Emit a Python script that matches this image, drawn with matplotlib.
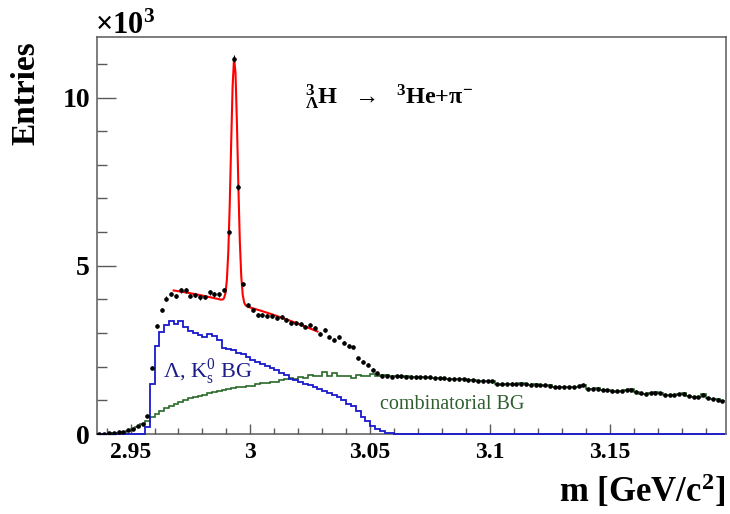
import numpy as np
import matplotlib
matplotlib.use("Agg")
import matplotlib.pyplot as plt
from matplotlib.ticker import MultipleLocator, FixedLocator, FixedFormatter

plt.rcParams['font.family'] = ['Liberation Serif', 'DejaVu Serif']
plt.rcParams['mathtext.fontset'] = 'custom'
plt.rcParams['mathtext.rm'] = 'Liberation Serif:bold'
plt.rcParams['mathtext.it'] = 'Liberation Serif:bold'
plt.rcParams['mathtext.bf'] = 'Liberation Serif:bold'

# ---------------- data ----------------
bin_start = 2.936
bin_width = 0.002
n_bins = 131

data_counts = [10, 10, 20, 30, 50, 70, 110, 160, 230, 310,
               545, 1974, 3214, 3690, 4027, 4157, 4107, 4266, 4266, 4107,
               4127, 4058, 4077, 4206, 4147, 4147, 4286, 5992, 11152, 7341,
               4464, 3829, 3690, 3542, 3542, 3522, 3512, 3442, 3492, 3383,
               3294, 3294, 3264, 3194, 3244, 3145, 2966, 3085, 2897, 2798,
               2877, 2718, 2619, 2579, 2252, 2153, 2054, 1905, 1806, 1726,
               1726, 1706, 1720, 1710, 1700, 1700, 1690, 1690, 1680, 1680,
               1660, 1650, 1650, 1630, 1640, 1620, 1630, 1610, 1600, 1590,
               1590, 1580, 1570, 1490, 1480, 1490, 1500, 1490, 1500, 1480,
               1470, 1470, 1460, 1450, 1440, 1400, 1400, 1390, 1390, 1400,
               1420, 1450, 1340, 1350, 1350, 1320, 1300, 1290, 1270, 1270,
               1300, 1320, 1260, 1210, 1190, 1220, 1230, 1220, 1170, 1150,
               1170, 1190, 1200, 1130, 1100, 1110, 1170, 1070, 1040, 1020,
               980]

lambda_k0_bg = [0, 0, 0, 0, 0, 0, 0, 0, 0, 0,
                220, 1480, 2620, 3020, 3250, 3370, 3260, 3370, 3180, 3050,
                3000, 2950, 2880, 2960, 2920, 2780, 2560, 2540, 2500, 2420,
                2370, 2280, 2200, 2150, 2080, 2020, 1960, 1900, 1800, 1740,
                1640, 1600, 1560, 1500, 1450, 1390, 1340, 1280, 1220, 1170,
                1100, 1000, 900, 820, 680, 500, 380, 230, 150, 90,
                40, 15] + [0] * 69

combinatorial_bg = [5, 5, 10, 20, 40, 60, 100, 150, 220, 300,
                    400, 500, 600, 680, 760, 830, 890, 940, 1010, 1060,
                    1110, 1130, 1170, 1210, 1250, 1280, 1310, 1330, 1370, 1390,
                    1400, 1430, 1430, 1490, 1510, 1530, 1550, 1560, 1610, 1630,
                    1660, 1640, 1690, 1660, 1760, 1730, 1710, 1850, 1720, 1820,
                    1730, 1710, 1710, 1660, 1760, 1730, 1730, 1780, 1730, 1750,
                    1740, 1720, 1730, 1700, 1710, 1690, 1700, 1680, 1690, 1670,
                    1660, 1650, 1640, 1630, 1640, 1620, 1630, 1610, 1600, 1590,
                    1580, 1590, 1570, 1480, 1470, 1490, 1500, 1490, 1510, 1480,
                    1470, 1480, 1460, 1440, 1450, 1400, 1390, 1400, 1390, 1400,
                    1410, 1460, 1340, 1350, 1360, 1320, 1300, 1290, 1260, 1270,
                    1300, 1330, 1260, 1200, 1190, 1220, 1240, 1230, 1160, 1150,
                    1170, 1200, 1210, 1130, 1090, 1110, 1180, 1060, 1040, 1030,
                    970]

# fit: gaussian + pol2 background (t = (m - bg_ref) / bg_scale)
fit_range = (2.968, 3.028)
gauss_mu, gauss_sigma, gauss_amp = 2.9933, 0.0014, 7300.0
bg_ref, bg_scale = 2.998, 0.03
bg_p0, bg_p1, bg_p2 = 3800.0, -610.0, -144.0

x_tick_vals = [2.95, 3.0, 3.05, 3.1, 3.15]
x_tick_labels = ["2.95", "3", "3.05", "3.1", "3.15"]
y_tick_vals = [0, 5000, 10000]
y_tick_labels = ["0", "5", "10"]

# ---------------- figure ----------------
W, H = 730, 514
fig = plt.figure(figsize=(W / 100, H / 100), dpi=100)
ax = fig.add_axes([97 / W, 1 - 434 / H, (726 - 97) / W, (434 - 37) / H])

edges = bin_start + bin_width * np.arange(n_bins + 1)
centers = 0.5 * (edges[:-1] + edges[1:])

blue_line = '#1a1acc'
green_line = '#2a6a2a'

ax.stairs(combinatorial_bg, edges, color=green_line, lw=1.2, baseline=None, zorder=2)
ax.stairs(lambda_k0_bg, edges, color=blue_line, lw=1.3, baseline=None, zorder=3, clip_on=False)

dc = np.array(data_counts, dtype=float)
ax.errorbar(centers, dc, yerr=np.sqrt(dc), fmt='o', ms=2.3, color='black',
            ecolor='black', elinewidth=0.8, capsize=0, zorder=5)

xf = np.linspace(fit_range[0], fit_range[1], 101)
tf = (xf - bg_ref) / bg_scale
yf = bg_p0 + bg_p1 * tf + bg_p2 * tf ** 2 + gauss_amp * np.exp(-0.5 * ((xf - gauss_mu) / gauss_sigma) ** 2)
ax.plot(xf, yf, color='#ff0000', lw=1.5, zorder=4)

ax.set_xlim(edges[0], edges[-1] + 0.0005)
ax.set_ylim(0, 11800)

ax.xaxis.set_major_locator(FixedLocator(x_tick_vals))
ax.xaxis.set_major_formatter(FixedFormatter(x_tick_labels))
ax.xaxis.set_minor_locator(MultipleLocator(0.01))
ax.yaxis.set_major_locator(FixedLocator(y_tick_vals))
ax.yaxis.set_major_formatter(FixedFormatter(y_tick_labels))
ax.yaxis.set_minor_locator(MultipleLocator(1000))

axis_col = '#5a5a5a'
for s in ax.spines.values():
    s.set_color(axis_col)
    s.set_linewidth(1.1)

ax.tick_params(axis='x', which='major', direction='in', length=7.5, width=1, color=axis_col,
               labelsize=17, pad=6, top=False)
ax.tick_params(axis='x', which='minor', direction='in', length=4, width=1, color=axis_col, top=False)
ax.tick_params(axis='y', which='major', direction='in', length=14, width=1, color=axis_col,
               labelsize=20, pad=5, right=False)
ax.tick_params(axis='y', which='minor', direction='in', length=7, width=1, color=axis_col, right=False)
for lab in ax.get_xticklabels() + ax.get_yticklabels():
    lab.set_fontweight('bold')

# texts
fig.text(26 / W, 1 - 93 / H, "Entries", rotation=90, ha='center', va='center',
         fontsize=24, fontweight='bold')
fig.text(725 / W, 1 - 502 / H, r"m [GeV/c$^{2}$]", ha='right', va='baseline',
         fontsize=25, fontweight='bold')
fig.text(95 / W, 1 - 34 / H, r"×10$^{3}$", ha='left', va='baseline',
         fontsize=22, fontweight='bold')
fig.text(305 / W, 1 - 104 / H,
         r"${}^{3}_{\Lambda}\mathrm{H}\ \ \rightarrow\ \ {}^{3}\mathrm{He}{+}\pi^{-}$",
         ha='left', va='baseline', fontsize=17.5)
fig.text(163 / W, 1 - 378 / H, r"Λ, K$_{\mathregular{s}}^{\mathregular{0}}$ BG", ha='left', va='baseline',
         fontsize=16, color='#1c1c8a',
         math_fontfamily='dejavuserif')
fig.text(380 / W, 1 - 409 / H, "combinatorial BG", ha='left', va='baseline',
         fontsize=14.5, color='#2f5f2f')

fig.savefig("out.png", dpi=100)
